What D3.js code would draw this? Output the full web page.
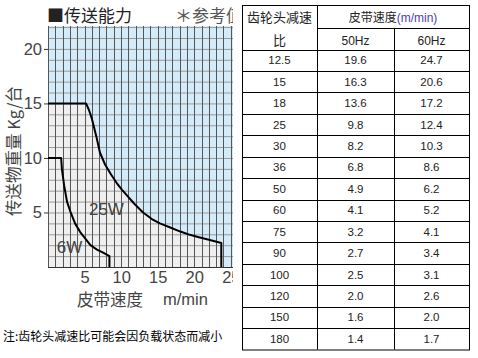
<!DOCTYPE html>
<html>
<head>
<meta charset="utf-8">
<script src="https://cdn.jsdelivr.net/npm/d3@7"></script>
<style>
  body { margin: 0; background: #fff; }
  svg { display: block; font-family: "Liberation Sans", Arial, sans-serif; }
</style>
</head>
<body>
<div id="plot"></div>
<script>
// chart data
const xTicks = [5, 10, 15, 20, 25];
const yTicks = [5, 10, 15, 20];
const curve25W = [[0,15],[5.2,15],[5.6,14.4],[6.0,13.6],[6.6,12],[7.1,10.5],[7.8,9.4],[8.6,8.5],[9.4,7.7],[10.1,7.1],[11.0,6.4],[11.8,5.8],[13.0,5.0],[14.2,4.4],[15.3,4.0],[16.8,3.6],[18.1,3.25],[19.4,2.95],[20.5,2.75],[22.0,2.5],[23.7,2.2],[23.7,0]];
const curve6W = [[0,10],[1.8,10],[1.9,9],[2.2,7.5],[2.6,6],[3.1,5],[3.7,4],[4.4,3.2],[5.0,2.7],[5.8,2.0],[6.7,1.6],[7.6,1.3],[8.4,1.0],[8.4,0]];
const curveLabels = [{ text: "25W", x: 5.6, y: 4.8 }, { text: "6W", x: 1.2, y: 1.3 }];

// table data
const ratios = ["12.5","15","18","25","30","36","50","60","75","90","100","120","150","180"];
const speed50 = ["19.6","16.3","13.6","9.8","8.2","6.8","4.9","4.1","3.2","2.7","2.5","2.0","1.6","1.4"];
const speed60 = ["24.7","20.6","17.2","12.4","10.3","8.6","6.2","5.2","4.1","3.4","3.1","2.6","2.0","1.7"];

const width = 478, height = 358;
const svg = d3.select("#plot").append("svg")
  .attr("width", width).attr("height", height);

// ---------- left chart ----------
const x = d3.scaleLinear().domain([0, 25.3]).range([48, 233]);
const y = d3.scaleLinear().domain([0, 22.1]).range([267, 26]);

svg.append("clipPath").attr("id", "leftclip")
  .append("rect").attr("x", 0).attr("y", 0).attr("width", 233).attr("height", 320);

const g = svg.append("g").attr("clip-path", "url(#leftclip)");

g.append("rect")
  .attr("x", x(0)).attr("y", y(22.1))
  .attr("width", 240 - x(0)).attr("height", y(0) - y(22.1))
  .attr("fill", "#d4ecfa");

const area = d3.area().x(d => x(d[0])).y0(y(0)).y1(d => y(d[1]));
g.append("path").datum(curve25W).attr("d", area).attr("fill", "#efefef");

// grid
g.selectAll(".hgrid").data(d3.range(0, 23)).enter().append("line")
  .attr("x1", x(0)).attr("x2", 240)
  .attr("y1", d => y(d) + 0.5).attr("y2", d => y(d) + 0.5)
  .attr("stroke", "#999").attr("stroke-width", 1);
g.selectAll(".vgrid").data(d3.range(0, 27)).enter().append("line")
  .attr("x1", d => Math.round(x(d)) + 0.5).attr("x2", d => Math.round(x(d)) + 0.5)
  .attr("y1", y(22.1)).attr("y2", y(0))
  .attr("stroke", "#555").attr("stroke-width", 1);
g.append("line")
  .attr("x1", x(0)).attr("x2", 240).attr("y1", y(0) + 0.5).attr("y2", y(0) + 0.5)
  .attr("stroke", "#333");

// curves
const line = d3.line().x(d => x(d[0])).y(d => y(d[1]));
[curve25W, curve6W].forEach(c => {
  g.append("path").datum(c).attr("d", line)
    .attr("fill", "none").attr("stroke", "#000").attr("stroke-width", 2)
    .attr("stroke-linejoin", "round");
});
g.selectAll(".clabel").data(curveLabels).enter().append("text")
  .attr("x", d => x(d.x)).attr("y", d => y(d.y))
  .attr("font-size", 17).attr("fill", "#444")
  .text(d => d.text);

// axes
const yAxis = g.append("g").attr("transform", "translate(" + x(0) + ",0)")
  .call(d3.axisLeft(y).tickValues(yTicks).tickSize(4).tickPadding(2));
const xAxis = g.append("g").attr("transform", "translate(0," + y(0) + ")")
  .call(d3.axisBottom(x).tickValues(xTicks).tickSize(0).tickPadding(4));
[xAxis, yAxis].forEach(a => {
  a.select(".domain").remove();
  a.selectAll("text").attr("font-size", 16.5).attr("fill", "#444")
    .attr("font-family", "Liberation Sans, Arial, sans-serif");
  a.selectAll("line").attr("stroke", "#333");
});

// titles
g.append("text").attr("x", 47).attr("y", 22)
  .attr("font-size", 17).attr("fill", "#222")
  .attr("font-family", "Noto Sans CJK SC, sans-serif")
  .text("■传送能力");
g.append("text").attr("x", 175).attr("y", 22)
  .attr("font-size", 17).attr("fill", "#555")
  .attr("font-family", "Noto Sans CJK SC, sans-serif")
  .text("＊参考值");

g.append("text").attr("x", 77).attr("y", 306)
  .attr("font-size", 16.5).attr("fill", "#444")
  .attr("font-family", "Noto Sans CJK SC, sans-serif")
  .text("皮带速度");
g.append("text").attr("x", 163).attr("y", 305)
  .attr("font-size", 16.5).attr("fill", "#444")
  .text("m/min");

svg.append("text")
  .attr("transform", "translate(20,151) rotate(-90)")
  .attr("text-anchor", "middle")
  .attr("font-size", 16.5).attr("fill", "#444")
  .attr("font-family", "Noto Sans CJK SC, sans-serif")
  .text("传送物重量 Kg/台");

svg.append("text").attr("x", 3).attr("y", 341)
  .attr("font-size", 12).attr("fill", "#000")
  .attr("font-family", "Noto Sans CJK SC, sans-serif")
  .text("注:齿轮头减速比可能会因负载状态而减小");

// ---------- right table ----------
const colX = [242, 317, 394, 469];
const colMid = [279.5, 355.5, 431.5];
const tTop = 5, midHead = 28.5, headBottom = 49.5, tBottom = 349.5;
const rowScale = d3.scaleBand().domain(ratios).range([headBottom, tBottom]);

const t = svg.append("g");
const stroke = "#000";
// outer and header lines
t.append("rect").attr("x", colX[0] + 0.5).attr("y", tTop + 0.5)
  .attr("width", colX[3] - colX[0]).attr("height", tBottom - tTop)
  .attr("fill", "none").attr("stroke", stroke);
t.append("line").attr("x1", colX[1] + 0.5).attr("x2", colX[1] + 0.5)
  .attr("y1", tTop).attr("y2", tBottom).attr("stroke", stroke);
t.append("line").attr("x1", colX[2] + 0.5).attr("x2", colX[2] + 0.5)
  .attr("y1", midHead).attr("y2", tBottom).attr("stroke", stroke);
t.append("line").attr("x1", colX[1]).attr("x2", colX[3])
  .attr("y1", midHead).attr("y2", midHead).attr("stroke", stroke);
t.selectAll(".rowline").data(ratios).enter().append("line")
  .attr("x1", colX[0]).attr("x2", colX[3])
  .attr("y1", d => Math.round(rowScale(d)) + 0.5)
  .attr("y2", d => Math.round(rowScale(d)) + 0.5)
  .attr("stroke", stroke);

// header text
const cjk = "Noto Sans CJK SC, sans-serif";
t.append("text").attr("x", colMid[0]).attr("y", 22).attr("text-anchor", "middle")
  .attr("font-size", 13).attr("font-family", cjk).attr("fill", "#222").text("齿轮头减速");
t.append("text").attr("x", colMid[0]).attr("y", 45).attr("text-anchor", "middle")
  .attr("font-size", 13).attr("font-family", cjk).attr("fill", "#222").text("比");
const hdr = t.append("text").attr("x", (colX[1] + colX[3]) / 2).attr("y", 22)
  .attr("text-anchor", "middle").attr("font-size", 12).attr("fill", "#222");
hdr.append("tspan").attr("font-family", cjk).text("皮带速度");
hdr.append("tspan").attr("fill", "#4a3fb0").text("(m/min)");
t.append("text").attr("x", colMid[1]).attr("y", 45).attr("text-anchor", "middle")
  .attr("font-size", 12).attr("fill", "#222").text("50Hz");
t.append("text").attr("x", colMid[2]).attr("y", 45).attr("text-anchor", "middle")
  .attr("font-size", 12).attr("fill", "#222").text("60Hz");

// body
const rows = ratios.map((r, i) => [r, speed50[i], speed60[i]]);
const rowG = t.selectAll(".row").data(rows).enter().append("g")
  .attr("transform", d => "translate(0," + (rowScale(d[0]) + rowScale.bandwidth() / 2) + ")");
rowG.selectAll("text").data(d => d).enter().append("text")
  .attr("x", (d, i) => colMid[i]).attr("y", 4)
  .attr("text-anchor", "middle").attr("font-size", 11.5).attr("fill", "#222")
  .text(d => d);
</script>
</body>
</html>
